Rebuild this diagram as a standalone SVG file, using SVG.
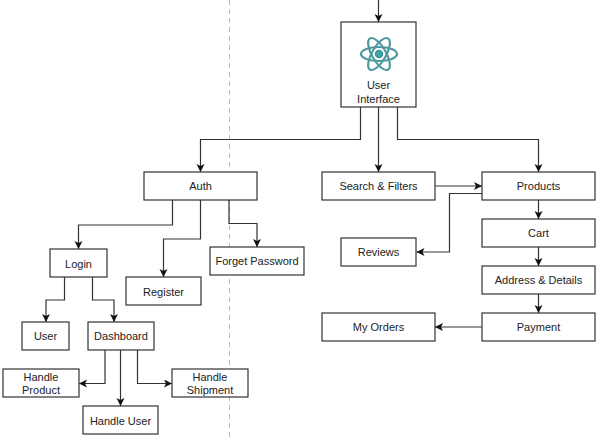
<svg xmlns="http://www.w3.org/2000/svg" width="600" height="439" viewBox="0 0 600 439">
<style>
.box{fill:#fff;stroke:#333;stroke-width:1.2}
.lbl{font-family:"Liberation Sans",Arial,sans-serif;font-size:11px;fill:#222;text-anchor:middle;dominant-baseline:central}
.edge{fill:none;stroke:#333;stroke-width:1.2;marker-end:url(#arr)}
.icon{fill:none;stroke:#4f9a9e;stroke-width:2.2}
</style>
<defs>
<marker id="arr" markerUnits="userSpaceOnUse" markerWidth="10" markerHeight="10" refX="8" refY="4" orient="auto">
<path d="M0,0 L8,4 L0,8 L2,4 Z" fill="#111"/>
</marker>
</defs>
<rect width="600" height="439" fill="#fff"/>
<line x1="229.5" y1="0" x2="229.5" y2="439" stroke="#bbb" stroke-width="1" stroke-dasharray="5,4"/>
<g id="connectors">
<path class="edge" d="M378.5,0 V22"/>
<path class="edge" d="M360.5,107 V139.5 H200.5 V172"/>
<path class="edge" d="M378.5,107 V172"/>
<path class="edge" d="M397.5,107 V139.5 H538.5 V172"/>
<path class="edge" d="M435,186 H482"/>
<path class="edge" d="M482,193.5 H449.5 V252 H416.5"/>
<path class="edge" d="M538.5,200 V219"/>
<path class="edge" d="M538.5,247 V266"/>
<path class="edge" d="M538.5,294 V313"/>
<path class="edge" d="M482,327 H435"/>
<path class="edge" d="M172.5,200 V225 H78.5 V249"/>
<path class="edge" d="M200.5,200 V239 H163.5 V277"/>
<path class="edge" d="M229,200 V223.5 H257 V247"/>
<path class="edge" d="M64.5,277 V300 H46 V322"/>
<path class="edge" d="M92.5,277 V300 H114 V322"/>
<path class="edge" d="M105,350 V383.5 H79"/>
<path class="edge" d="M120.5,350 V406"/>
<path class="edge" d="M137.5,350 V383.5 H172"/>
</g>
<g id="user-interface">
<rect class="box" x="341" y="22" width="75" height="85"/>
<g transform="translate(379,54)">
<ellipse class="icon" rx="18" ry="7"/>
<ellipse class="icon" rx="18" ry="7" transform="rotate(60)"/>
<ellipse class="icon" rx="18" ry="7" transform="rotate(-60)"/>
<circle r="3.6" fill="#3aa6b5" stroke="#3f8a90" stroke-width="1.2"/>
</g>
<text class="lbl" x="378.5" y="85">User</text>
<text class="lbl" x="378.5" y="99">Interface</text>
</g>
<g id="auth"><rect class="box" x="144" y="172" width="113" height="28"/><text class="lbl" x="200.5" y="186">Auth</text></g>
<g id="search"><rect class="box" x="322" y="172" width="113" height="28"/><text class="lbl" x="378.5" y="186">Search &amp; Filters</text></g>
<g id="products"><rect class="box" x="482" y="172" width="113" height="28"/><text class="lbl" x="538.5" y="186">Products</text></g>
<g id="reviews"><rect class="box" x="341" y="238" width="75" height="28"/><text class="lbl" x="378.5" y="252">Reviews</text></g>
<g id="cart"><rect class="box" x="482" y="219" width="113" height="28"/><text class="lbl" x="538.5" y="233">Cart</text></g>
<g id="address"><rect class="box" x="482" y="266" width="113" height="28"/><text class="lbl" x="538.5" y="280">Address &amp; Details</text></g>
<g id="payment"><rect class="box" x="482" y="313" width="113" height="28"/><text class="lbl" x="538.5" y="327">Payment</text></g>
<g id="my-orders"><rect class="box" x="322" y="313" width="113" height="28"/><text class="lbl" x="378.5" y="327">My Orders</text></g>
<g id="login"><rect class="box" x="50" y="249" width="57" height="28"/><text class="lbl" x="78.5" y="264">Login</text></g>
<g id="register"><rect class="box" x="126" y="277" width="75" height="28"/><text class="lbl" x="163.5" y="292">Register</text></g>
<g id="forget-password"><rect class="box" x="210" y="247" width="94" height="28"/><text class="lbl" x="257" y="261">Forget Password</text></g>
<g id="user"><rect class="box" x="22" y="322" width="47" height="28"/><text class="lbl" x="45.5" y="336">User</text></g>
<g id="dashboard"><rect class="box" x="88" y="322" width="66" height="28"/><text class="lbl" x="121" y="336">Dashboard</text></g>
<g id="handle-product"><rect class="box" x="3" y="369" width="76" height="28"/><text class="lbl" x="41" y="376.5">Handle</text><text class="lbl" x="41" y="390">Product</text></g>
<g id="handle-shipment"><rect class="box" x="172" y="369" width="76" height="28"/><text class="lbl" x="210" y="376.5">Handle</text><text class="lbl" x="210" y="390">Shipment</text></g>
<g id="handle-user"><rect class="box" x="83" y="406" width="75" height="28"/><text class="lbl" x="120.5" y="421">Handle User</text></g>
</svg>
